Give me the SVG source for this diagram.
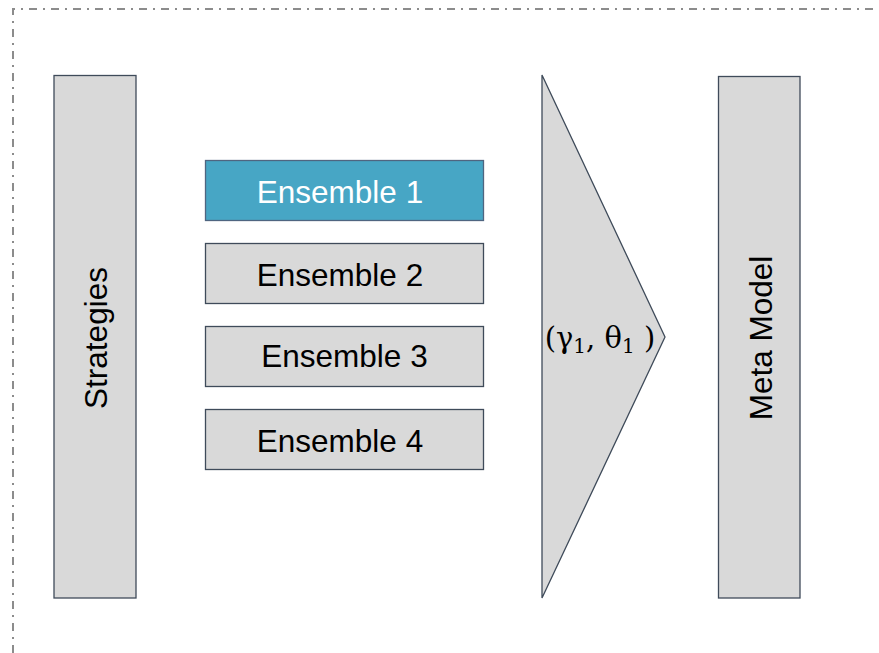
<svg xmlns="http://www.w3.org/2000/svg" width="879" height="653" viewBox="0 0 879 653">
  <style>
    .box { fill: #d9d9d9; stroke: #3f4b5a; stroke-width: 1.3; }
    .hl { fill: #47a6c5; stroke: #4f6580; stroke-width: 1.3; }
    .lbl { font-family: "Liberation Sans", Arial, sans-serif; font-size: 31.5px; fill: #000; text-anchor: middle; }
    .frame { fill: none; stroke: #8c8c8c; stroke-width: 2; stroke-dasharray: 8 6 2 6; }
  </style>
  <rect width="879" height="653" fill="#ffffff"/>
  <!-- dash-dot frame, open to the right and bottom -->
  <path class="frame" d="M 13 653 L 13 9 L 879 9"/>

  <g id="strategies">
    <rect class="box" x="54" y="75.5" width="82" height="522.5"/>
    <text class="lbl" transform="translate(107 338) rotate(-90)">Strategies</text>
  </g>

  <g id="ensemble1">
    <rect class="hl" x="205.5" y="160.5" width="278" height="60"/>
    <text class="lbl" x="340" y="203" style="fill:#ffffff">Ensemble 1</text>
  </g>
  <g id="ensemble2">
    <rect class="box" x="205.5" y="243.5" width="278" height="60"/>
    <text class="lbl" x="340" y="286">Ensemble 2</text>
  </g>
  <g id="ensemble3">
    <rect class="box" x="205.5" y="326.5" width="278" height="60"/>
    <text class="lbl" x="344.5" y="367">Ensemble 3</text>
  </g>
  <g id="ensemble4">
    <rect class="box" x="205.5" y="409.5" width="278" height="60"/>
    <text class="lbl" x="340" y="452">Ensemble 4</text>
  </g>

  <g id="combiner">
    <polygon class="box" points="542,75 665,337 542,598"/>
    <text x="600" y="348" font-family="'DejaVu Serif', 'Liberation Serif', serif" font-size="29" text-anchor="middle" fill="#000">(γ<tspan font-size="20" dy="5">1</tspan><tspan dy="-5">, θ</tspan><tspan font-size="20" dy="5">1</tspan><tspan dy="-5"> )</tspan></text>
  </g>

  <g id="meta-model">
    <rect class="box" x="718.5" y="76.5" width="81.5" height="521.5"/>
    <text class="lbl" transform="translate(772 338) rotate(-90)">Meta Model</text>
  </g>

  <g id="connectors"></g>
</svg>
